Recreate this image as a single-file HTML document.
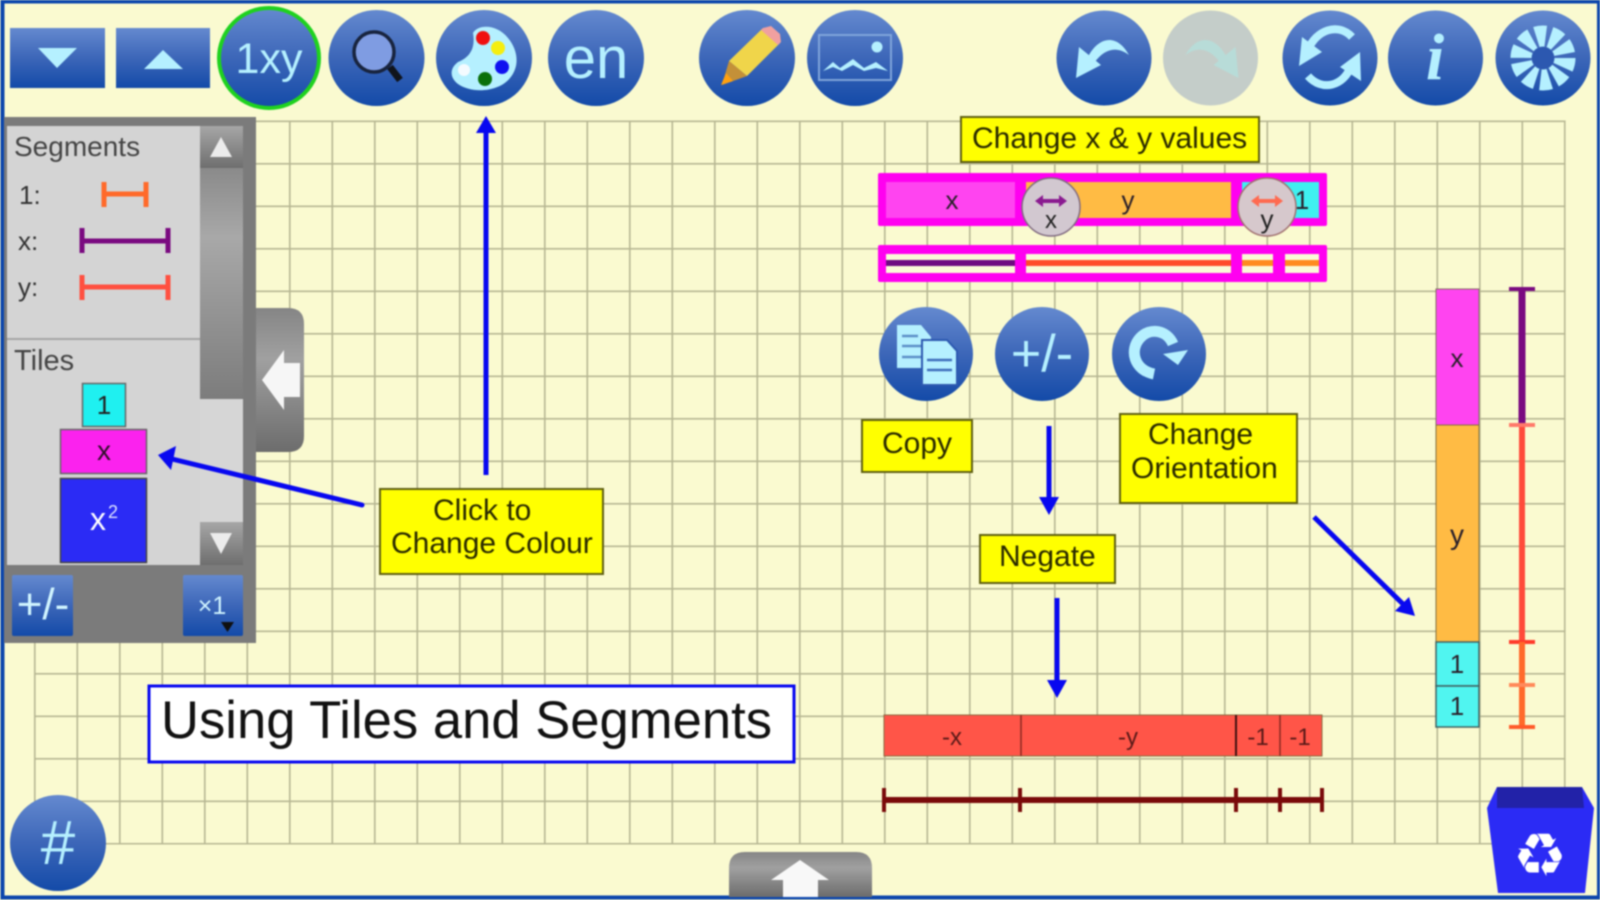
<!DOCTYPE html>
<html lang="en"><head><meta charset="utf-8"><title>Using Tiles and Segments</title>
<style>
html,body{margin:0;padding:0;width:1600px;height:900px;overflow:hidden;background:#fafad0}
svg{display:block;filter:blur(.85px)}
text{font-family:"Liberation Sans",sans-serif}
.ic{fill:#b5f0ff}
.call{fill:#ffff00;stroke:#5f5f10;stroke-width:2}
.ct{font-size:30px;fill:#2a2a00}
.ti{font-size:26px;fill:#2a202a;text-anchor:middle}
.wt{font-size:24px;fill:#5a1a18;text-anchor:middle}
.arr{stroke:#0808f0;stroke-width:5;fill:none}
.ah{fill:#0808f0}
</style></head><body>
<svg width="1600" height="900" viewBox="0 0 1600 900" xmlns="http://www.w3.org/2000/svg">
<defs>
<linearGradient id="b" x1="0" y1="0" x2="0" y2="1"><stop offset="0" stop-color="#6489cf"/><stop offset=".5" stop-color="#3c66b8"/><stop offset="1" stop-color="#134aa8"/></linearGradient>
<linearGradient id="g" x1="0" y1="0" x2="0" y2="1"><stop offset="0" stop-color="#a6a6a6"/><stop offset="1" stop-color="#6e6e6e"/></linearGradient>
<linearGradient id="s" x1="0" y1="0" x2="0" y2="1"><stop offset="0" stop-color="#8a8a8a"/><stop offset=".3" stop-color="#a8a8a8"/><stop offset="1" stop-color="#7c7c7c"/></linearGradient>
<linearGradient id="t" x1="0" y1="0" x2="0" y2="1"><stop offset="0" stop-color="#858585"/><stop offset=".35" stop-color="#a0a0a0"/><stop offset="1" stop-color="#6c6c6c"/></linearGradient>
<pattern id="grid" patternUnits="userSpaceOnUse" x="34" y="120.5" width="42.5" height="42.5">
<rect width="1.6" height="42.5" fill="#b6b692"/><rect width="42.5" height="1.6" fill="#b6b692"/>
</pattern>
</defs>

<rect width="1600" height="900" fill="#fafad0"/>
<rect x="34" y="120.5" width="1531.6" height="724" fill="url(#grid)"/>
<rect x="2.500" y="1.500" width="1596.500" height="896" fill="none" stroke="#0c46ac" stroke-width="4"/>

<!-- top toolbar -->
<rect x="10" y="28" width="95" height="60" fill="url(#b)"/>
<polygon points="38,48 77,48 57,68" class="ic"/>
<rect x="116" y="28" width="94" height="60" fill="url(#b)"/>
<polygon points="144,69 183,69 163,50" class="ic"/>

<circle cx="269" cy="58" r="50" fill="url(#b)" stroke="#1fd21f" stroke-width="4"/>
<text x="269" y="73" font-size="43" text-anchor="middle" class="ic">1xy</text>

<circle cx="376.500" cy="58" r="48" fill="url(#b)"/>
<line x1="390" y1="67" x2="400" y2="80" stroke="#10141c" stroke-width="7"/>
<circle cx="374" cy="52" r="20" fill="#7f9ce2" stroke="#18243e" stroke-width="3.500"/>

<circle cx="484" cy="58" r="48" fill="url(#b)"/>
<path d="M473 33C478 24 497 24 508 38C518 50 520 66 510 78C499 92 472 94 458 84C449 77 450 68 458 62C468 58 476 50 473 33Z" class="ic"/>
<circle cx="483" cy="38" r="7" fill="#f01010"/><circle cx="498" cy="48" r="7" fill="#f5ee10"/><circle cx="502" cy="67" r="7" fill="#1010f0"/><circle cx="485" cy="79" r="7" fill="#0a700a"/><circle cx="464" cy="70" r="6" fill="#f4fbff"/>

<circle cx="596" cy="58" r="48" fill="url(#b)"/>
<text x="596" y="78" font-size="58" text-anchor="middle" class="ic">en</text>

<circle cx="747" cy="58" r="48" fill="url(#b)"/>
<polygon points="729,61 763,28 780,43 747,76" fill="#f0d54a"/>
<polygon points="763,28 761,30 778,45 781,42 780,34 771,26" fill="#f0a0a0"/>
<polygon points="729,61 747,76 722,85" fill="#c49038"/>
<polygon points="726,73 733,81 721,85" fill="#ffa010"/>

<circle cx="855" cy="58" r="48" fill="url(#b)"/>
<rect x="819" y="35" width="72" height="45" fill="none" stroke="#7fa4da" stroke-width="2"/>
<circle cx="877" cy="47" r="5.500" class="ic"/>
<polygon points="823,71 833,62 840,68 853,59 864,68 876,62 888,71 876,68 864,71 853,65 842,71 833,67" class="ic"/>

<circle cx="1104" cy="58" r="47.500" fill="url(#b)"/>
<polygon points="1079,47 1076,78 1101,65" class="ic"/>
<path d="M1088 57C1096 40 1115 30 1129 55C1117 46 1105 48 1094 63Z" class="ic"/>

<circle cx="1210.500" cy="58" r="47.500" fill="#c4cdc9"/>
<polygon points="1235.500,47 1238.500,78 1213.500,65" fill="#b8dcd8"/>
<path d="M1226.500 57C1218.500 40 1199.500 30 1185.500 55C1197.500 46 1209.500 48 1220.500 63Z" fill="#b8dcd8"/>

<circle cx="1330" cy="58" r="47.500" fill="url(#b)"/>
<path d="M1352 37C1338 22 1316 30 1308 50" fill="none" stroke="#b5f0ff" stroke-width="8"/>
<polygon points="1299,66 1302,37 1322,52" class="ic"/>
<path d="M1308 76C1322 92 1344 86 1351 66" fill="none" stroke="#b5f0ff" stroke-width="8"/>
<polygon points="1360,52 1361,81 1340,67" class="ic"/>

<circle cx="1435.500" cy="58" r="47.500" fill="url(#b)"/>
<text x="1435" y="79" font-size="66" font-weight="bold" font-style="italic" text-anchor="middle" class="ic" style="font-family:'Liberation Serif',serif">i</text>

<circle cx="1543" cy="58" r="47.500" fill="url(#b)"/>
<circle cx="1543" cy="58" r="22" fill="none" stroke="#b5f0ff" stroke-width="21" stroke-dasharray="9.500 4.324"/>
<circle cx="1543" cy="58" r="11" fill="#2c58b0"/>

<!-- left panel -->
<rect x="4" y="117" width="252" height="526" fill="#7b7b7b"/>
<rect x="7" y="126" width="193" height="439" fill="#d4d4d4"/>
<rect x="7" y="338" width="193" height="2" fill="#a4a4a4"/>
<rect x="200" y="168" width="43" height="231" fill="url(#s)"/>
<rect x="200" y="399" width="43" height="123" fill="#d6d6d6"/>
<rect x="200" y="126" width="43" height="42" fill="url(#g)"/>
<rect x="200" y="522" width="43" height="43" fill="url(#g)"/>
<polygon points="210,157 232,157 221,137" fill="#ececec"/>
<polygon points="210,533 232,533 221,554" fill="#ececec"/>

<text x="14" y="156" font-size="28" fill="#444">Segments</text>
<text x="19" y="204" font-size="26" fill="#333">1:</text>
<text x="18" y="250" font-size="26" fill="#333">x:</text>
<text x="18" y="296" font-size="26" fill="#333">y:</text>
<path d="M104 182V207M146 182V207M104 194H146" stroke="#ff6a2a" stroke-width="5" fill="none"/>
<path d="M82 228V253M168 228V253M82 241H168" stroke="#7a0a80" stroke-width="5" fill="none"/>
<path d="M82 275V300M168 275V300M82 287H168" stroke="#ff5040" stroke-width="5" fill="none"/>

<text x="14" y="370" font-size="29" fill="#444">Tiles</text>
<rect x="82.500" y="383.500" width="43" height="43" fill="#1ff0f0" stroke="#666" stroke-width="1.500"/>
<text x="104" y="414" font-size="26" fill="#222" text-anchor="middle">1</text>
<rect x="60.500" y="429.500" width="86" height="44" fill="#fb22ee" stroke="#666" stroke-width="1.500"/>
<text x="104" y="460" font-size="28" fill="#30102a" text-anchor="middle">x</text>
<rect x="60.500" y="478.500" width="86" height="84" fill="#2b2bf5" stroke="#444" stroke-width="1.500"/>
<text x="98" y="530" font-size="32" fill="#fff" text-anchor="middle">x</text>
<text x="113" y="518" font-size="18" fill="#dfe4ff" text-anchor="middle">2</text>

<rect x="12" y="575" width="61" height="61" rx="2" fill="url(#b)"/>
<text x="43" y="619" font-size="44" text-anchor="middle" fill="#d0f4ff">+/-</text>
<rect x="183" y="575" width="60" height="61" rx="2" fill="url(#b)"/>
<text x="212" y="614" font-size="25" text-anchor="middle" fill="#d0f4ff">×1</text>
<polygon points="221,622 234,622 227.500,632" fill="#101010"/>

<!-- side tab -->
<path d="M256 308H288Q304 308 304 324V436Q304 452 288 452H256Z" fill="url(#t)"/>
<polygon points="262,380 284,350 284,363 300,363 300,397 284,397 284,410" fill="#f6f6f6"/>

<!-- arrows -->
<line x1="362" y1="505" x2="172" y2="459" class="arr" stroke-linecap="round"/>
<polygon points="158,455 176,446 171,470" class="ah"/>
<line x1="486" y1="475" x2="486" y2="130" class="arr"/>
<polygon points="486,116 476,133 496,133" class="ah"/>
<line x1="1049" y1="426" x2="1049" y2="500" class="arr"/>
<polygon points="1049,515 1039,497 1059,497" class="ah"/>
<line x1="1057" y1="598" x2="1057" y2="682" class="arr" stroke-width="6"/>
<polygon points="1057,698 1047,680 1067,680" class="ah"/>
<line x1="1314" y1="517" x2="1404" y2="605" class="arr"/>
<polygon points="1415,616 1395,611 1409,597" class="ah"/>

<!-- callouts -->
<rect x="380" y="489" width="223" height="85" class="call"/>
<text x="433" y="520" class="ct">Click to</text>
<text x="391" y="553" class="ct">Change Colour</text>

<rect x="961" y="117" width="298" height="45" class="call"/>
<text x="972" y="148" class="ct">Change x &amp; y values</text>

<rect x="862" y="420" width="110" height="52" class="call"/>
<text x="882" y="453" class="ct">Copy</text>

<rect x="1120" y="414" width="177" height="89" class="call"/>
<text x="1148" y="444" class="ct">Change</text>
<text x="1131" y="478" class="ct">Orientation</text>

<rect x="980" y="535" width="135" height="48" class="call"/>
<text x="999" y="566" class="ct">Negate</text>

<!-- magenta frames -->
<rect x="878" y="173" width="449" height="53" rx="2" fill="#ff00f0"/>
<rect x="886" y="182" width="129" height="36" fill="#ff44f0"/>
<rect x="1026" y="182" width="205" height="36" fill="#ffbb44"/>
<rect x="1242" y="182" width="77" height="36" fill="#3ff0f0"/>
<text x="952" y="209" class="ti">x</text>
<text x="1128" y="209" class="ti">y</text>
<text x="1302" y="209" class="ti">1</text>

<rect x="878" y="245" width="449" height="37" rx="2" fill="#ff00f0"/>
<rect x="886" y="254" width="129" height="19" fill="#fafad8"/>
<rect x="1026" y="254" width="205" height="19" fill="#fafad8"/>
<rect x="1242" y="254" width="31" height="19" fill="#fafad8"/>
<rect x="1285" y="254" width="34" height="19" fill="#fafad8"/>
<rect x="886" y="260" width="129" height="6" fill="#6e0a80"/>
<rect x="1026" y="260" width="205" height="6" fill="#ff4a2a"/>
<rect x="1242" y="260" width="31" height="6" fill="#ff8a20"/>
<rect x="1285" y="260" width="34" height="6" fill="#ff8a20"/>

<circle cx="1051" cy="207" r="29" fill="#d2c8d0" stroke="#806a80" stroke-width="1.500"/>
<path d="M1038 201H1064" stroke="#8a1a90" stroke-width="4"/>
<polygon points="1035,201 1043,195 1043,207" fill="#8a1a90"/><polygon points="1067,201 1059,195 1059,207" fill="#8a1a90"/>
<text x="1051" y="228" class="ti" style="font-size:24px;fill:#222">x</text>
<circle cx="1267" cy="207" r="29" fill="#d6c8cc" stroke="#a07070" stroke-width="1.500"/>
<path d="M1254 201H1280" stroke="#ff6a50" stroke-width="4"/>
<polygon points="1251,201 1259,195 1259,207" fill="#ff6a50"/><polygon points="1283,201 1275,195 1275,207" fill="#ff6a50"/>
<text x="1267" y="228" class="ti" style="font-size:26px;fill:#222">y</text>

<!-- round action buttons -->
<circle cx="926" cy="354" r="47" fill="url(#b)"/>
<polygon points="897,325 921,325 931,337 931,368 897,368" class="ic"/>
<path d="M902 336H918M902 346H926M902 357H926" stroke="#5c8fc8" stroke-width="2.500"/>
<polygon points="922,340 947,340 957,351 957,385 922,385" class="ic" stroke="#2c58b0" stroke-width="2"/>
<path d="M927 360H952M927 370H952" stroke="#3f6fbc" stroke-width="2.500"/>

<circle cx="1042" cy="354" r="47" fill="url(#b)"/>
<text x="1042" y="371" font-size="52" text-anchor="middle" class="ic">+/-</text>

<circle cx="1159" cy="354" r="47" fill="url(#b)"/>
<path d="M1154 374C1134 370 1129 350 1140 338C1150 327 1167 330 1173 344" fill="none" stroke="#b5f0ff" stroke-width="11"/>
<polygon points="1188,350 1163,354 1178,365" class="ic"/>

<!-- negative tiles -->
<rect x="884" y="715" width="438" height="41" fill="#ff5548" stroke="#8a6a40" stroke-width="1"/>
<path d="M1021 715V756M1280 715V756" stroke="#8a2a20" stroke-width="1.500"/>
<path d="M1236 715V756" stroke="#401010" stroke-width="2"/>
<text x="952" y="745" class="wt">-x</text>
<text x="1128" y="745" class="wt">-y</text>
<text x="1258" y="745" class="wt">-1</text>
<text x="1300" y="745" class="wt">-1</text>

<path d="M884 800H1322" stroke="#7a0a0a" stroke-width="6"/>
<path d="M884 788V812M1020 788V812M1236 788V812M1280 788V812M1322 788V812" stroke="#7a0a0a" stroke-width="4"/>

<!-- vertical tiles -->
<rect x="1436" y="289" width="43" height="136" fill="#ff44f0" stroke="#807060" stroke-width="1"/>
<rect x="1436" y="425" width="43" height="217" fill="#ffbb44" stroke="#807040" stroke-width="1"/>
<rect x="1436" y="642" width="43" height="44" fill="#50f5f0" stroke="#406060" stroke-width="1.500"/>
<rect x="1436" y="686" width="43" height="41" fill="#50f5f0" stroke="#406060" stroke-width="1.500"/>
<text x="1457" y="367" class="ti">x</text>
<text x="1457" y="544" class="ti" style="font-size:28px">y</text>
<text x="1457" y="673" class="ti">1</text>
<text x="1457" y="715" class="ti">1</text>

<path d="M1522 289V425" stroke="#7a0a80" stroke-width="7"/>
<path d="M1509 289H1535" stroke="#7a0a80" stroke-width="4"/>
<path d="M1522 425V642" stroke="#ff4a3a" stroke-width="6"/>
<path d="M1509 425H1535" stroke="#ff7a6a" stroke-width="4"/>
<path d="M1509 642H1535" stroke="#ff3a2a" stroke-width="4"/>
<path d="M1522 642V727" stroke="#ff6a2a" stroke-width="6"/>
<path d="M1509 685H1535" stroke="#ff8a5a" stroke-width="4"/>
<path d="M1509 727H1535" stroke="#ff5a2a" stroke-width="4"/>

<!-- title -->
<rect x="149" y="686" width="645" height="76" fill="#fff" stroke="#0808f0" stroke-width="3"/>
<text x="161" y="738" font-size="52.600" fill="#111">Using Tiles and Segments</text>

<!-- hash button -->
<circle cx="58" cy="843" r="48" fill="url(#b)"/>
<text x="58" y="864" font-size="62" text-anchor="middle" class="ic">#</text>

<!-- bottom tab -->
<path d="M729 897V868Q729 852 745 852H856Q872 852 872 868V897Z" fill="url(#t)"/>
<polygon points="800,860 829,880 818,880 818,897 783,897 783,880 771,880" fill="#f8f8f8"/>

<!-- trash -->
<polygon points="1487,808 1497,787 1582,787 1594,808 1585,893 1498,893" fill="#2b2bf5"/>
<polygon points="1497,787 1582,787 1584,808 1497,808" fill="#2222a8"/>
<text x="1540" y="876" font-size="60" text-anchor="middle" fill="#fff" style="font-family:'DejaVu Sans',sans-serif">♻</text>
</svg>
</body></html>
